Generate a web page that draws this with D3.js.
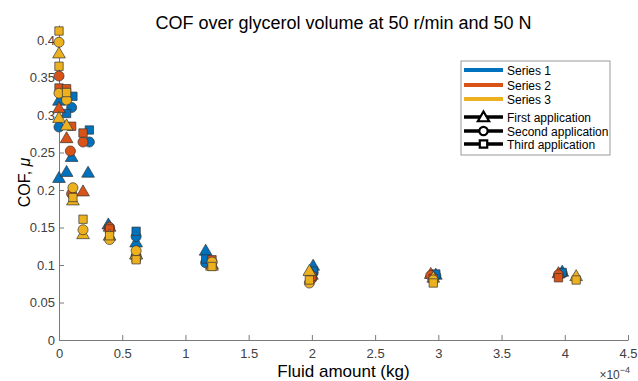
<!DOCTYPE html>
<html>
<head>
<meta charset="utf-8">
<script src="https://cdn.jsdelivr.net/npm/d3@7"></script>
<style>
  body { margin: 0; background: #fff; }
  svg { display: block; font-family: "Liberation Sans", Arial, sans-serif; }
  .axis path, .axis line { stroke: #7a7a7a; }
  .axis text { fill: #404040; font-size: 13px; font-family: "Liberation Sans", Arial, sans-serif; }
</style>
</head>
<body>
<svg width="638" height="381"></svg>
<script>
// fluid amount in units of 1e-4 kg, COF
var seriesNames = ["Series 1", "Series 2", "Series 3"];
var appNames = ["First application", "Second application", "Third application"];
var xTicks = [0, 0.5, 1, 1.5, 2, 2.5, 3, 3.5, 4, 4.5];
var yTicks = [0, 0.05, 0.1, 0.15, 0.2, 0.25, 0.3, 0.35, 0.4];

var s1First  = [[0,0.32],[0,0.217],[0.06,0.225],[0.1,0.245],[0.23,0.224],[0.39,0.155],[0.61,0.131],[1.16,0.12],[2.01,0.1],[2.98,0.088],[3.98,0.092]];
var s1Second = [[0,0.284],[0.1,0.31],[0.24,0.264],[0.61,0.138],[1.16,0.103],[2.01,0.09],[2.98,0.086],[3.98,0.089]];
var s1Third  = [[0.06,0.302],[0.11,0.325],[0.24,0.28],[0.61,0.145],[1.16,0.108],[2.01,0.092],[2.98,0.088],[3.98,0.09]];

var s2First  = [[0,0.31],[0.06,0.27],[0.19,0.199],[0.4,0.152],[0.61,0.115],[1.21,0.102],[2.0,0.088],[2.94,0.089],[3.95,0.09]];
var s2Second = [[0,0.352],[0.09,0.252],[0.19,0.264],[0.1,0.195],[0.4,0.15],[0.61,0.112],[1.21,0.104],[2.0,0.082],[2.94,0.086],[3.95,0.087]];
var s2Third  = [[0,0.336],[0.06,0.335],[0.1,0.285],[0.19,0.276],[0.4,0.148],[0.61,0.109],[1.21,0.107],[2.0,0.085],[2.96,0.082],[3.95,0.083]];

var s3First  = [[0,0.383],[0,0.297],[0.06,0.287],[0.11,0.187],[0.19,0.142],[0.4,0.14],[0.61,0.115],[1.21,0.1],[1.98,0.093],[2.96,0.084],[4.09,0.086]];
var s3Second = [[0,0.397],[0,0.329],[0.06,0.32],[0.11,0.203],[0.19,0.147],[0.4,0.134],[0.61,0.119],[1.21,0.104],[1.98,0.076],[2.96,0.08]];
var s3Third  = [[0,0.412],[0,0.365],[0.06,0.33],[0.11,0.19],[0.19,0.161],[0.4,0.139],[0.61,0.107],[1.21,0.098],[1.98,0.08],[2.96,0.076],[4.09,0.08]];

var colors = ["#0072BD", "#D95319", "#EDB120"];
var shapes = [d3.symbolTriangle, d3.symbolCircle, d3.symbolSquare];
var sizes = [70, 80, 70];

var groups = [
  [s1First, s1Second, s1Third],
  [s2First, s2Second, s2Third],
  [s3First, s3Second, s3Third]
];

var svg = d3.select("svg"),
    margin = {top: 25, right: 10, bottom: 41, left: 59},
    width = +svg.attr("width") - margin.left - margin.right,
    height = +svg.attr("height") - margin.top - margin.bottom;

var x = d3.scaleLinear().domain([0, 4.5]).range([0, width]),
    y = d3.scaleLinear().domain([0, 0.42]).range([height, 0]);

var g = svg.append("g")
    .attr("transform", "translate(" + margin.left + "," + margin.top + ")");

g.append("g")
    .attr("class", "axis axis--x")
    .attr("transform", "translate(0," + height + ")")
    .call(d3.axisBottom(x).tickValues(xTicks).tickSizeInner(-5).tickSizeOuter(0).tickPadding(9).tickFormat(d3.format("")));

g.append("g")
    .attr("class", "axis axis--y")
    .call(d3.axisLeft(y).tickValues(yTicks).tickSizeInner(-5).tickSizeOuter(0).tickPadding(4).tickFormat(d3.format("")));

// markers
groups.forEach(function(apps, si) {
  apps.forEach(function(pts, ai) {
    g.selectAll(".m" + si + ai)
      .data(pts)
      .enter().append("path")
        .attr("class", "m" + si + ai)
        .attr("d", d3.symbol().type(shapes[ai]).size(sizes[ai]))
        .attr("transform", function(d) {
          var dy = ai === 0 ? 1.5 : 0;
          return "translate(" + x(d[0]) + "," + (y(d[1]) + dy) + ")";
        })
        .attr("fill", colors[si])
        .attr("stroke", "#333")
        .attr("stroke-width", 0.7);
  });
});

// title and labels
svg.append("text")
    .attr("x", margin.left + width / 2)
    .attr("y", 29)
    .attr("text-anchor", "middle")
    .attr("font-size", 18)
    .attr("fill", "#000")
    .text("COF over glycerol volume at 50 r/min and 50 N");

svg.append("text")
    .attr("x", margin.left + width / 2)
    .attr("y", 377)
    .attr("text-anchor", "middle")
    .attr("font-size", 17)
    .attr("fill", "#000")
    .text("Fluid amount (kg)");

var yl = svg.append("text")
    .attr("transform", "translate(30," + (margin.top + height / 2) + ") rotate(-90)")
    .attr("text-anchor", "middle")
    .attr("font-size", 16)
    .attr("fill", "#000");
yl.append("tspan").text("COF, ");
yl.append("tspan").attr("font-style", "italic").text("μ");

var ex = svg.append("text")
    .attr("x", 630)
    .attr("y", 379)
    .attr("text-anchor", "end")
    .attr("font-size", 12)
    .attr("fill", "#404040");
ex.append("tspan").text("×10");
ex.append("tspan").attr("dy", -6).attr("font-size", 9).text("−4");

// legend
var lg = svg.append("g").attr("transform", "translate(461,61)");
lg.append("rect")
    .attr("width", 149).attr("height", 94)
    .attr("fill", "#fff").attr("stroke", "#999").attr("stroke-width", 1);

var rowsY = [9, 24, 38, 56, 70, 83];
seriesNames.forEach(function(name, i) {
  lg.append("line")
    .attr("x1", 3).attr("x2", 42).attr("y1", rowsY[i]).attr("y2", rowsY[i])
    .attr("stroke", colors[i]).attr("stroke-width", 4);
  lg.append("text").attr("x", 46).attr("y", rowsY[i] + 4.5)
    .attr("font-size", 12).attr("fill", "#000").text(name);
});
appNames.forEach(function(name, i) {
  var yy = rowsY[3 + i];
  lg.append("line")
    .attr("x1", 3).attr("x2", 42).attr("y1", yy).attr("y2", yy)
    .attr("stroke", "#000").attr("stroke-width", 3.5);
  lg.append("path")
    .attr("d", d3.symbol().type(shapes[i]).size(55))
    .attr("transform", "translate(22.5," + (yy + (i === 0 ? 1 : 0)) + ")")
    .attr("fill", "#fff").attr("stroke", "#000").attr("stroke-width", 2.2);
  lg.append("text").attr("x", 46).attr("y", yy + 4.5)
    .attr("font-size", 12).attr("fill", "#000").text(name);
});
</script>
</body>
</html>
